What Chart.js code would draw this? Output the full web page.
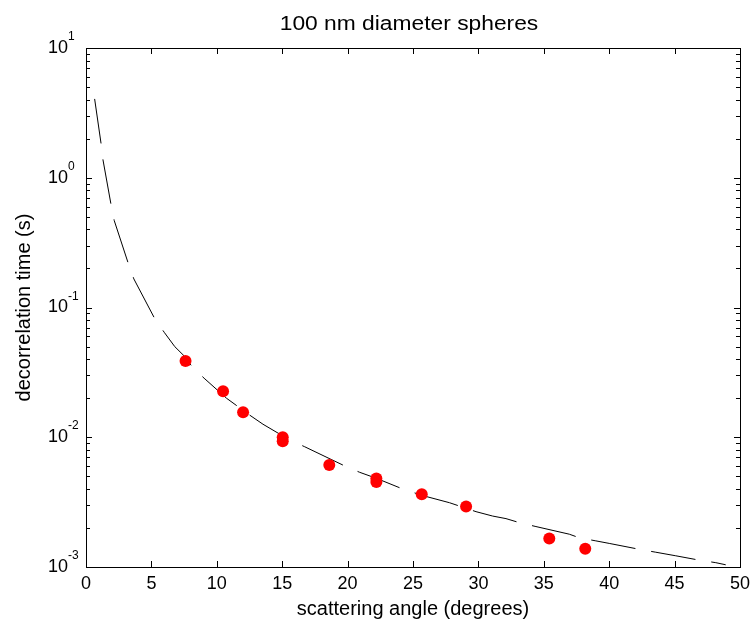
<!DOCTYPE html>
<html>
<head>
<meta charset="utf-8">
<script src="https://cdn.jsdelivr.net/npm/chart.js@4/dist/chart.umd.min.js"></script>
<style>
  body { margin: 0; background: #fff; }
  canvas { display: block; }
</style>
</head>
<body>
<canvas id="decorrChart" width="756" height="626"></canvas>
<script>
// Data
const curveAngle = [0.66, 1.15, 1.30, 1.91, 2.16, 3.23, 3.66, 5.24, 5.98, 6.79, 7.56, 8.11, 9.03, 10.74, 12.52, 13.53, 15.57, 16.72, 19.90, 20.92, 22.19, 24.22, 25.75, 27.79, 29.82, 31.09, 32.11, 33.18, 34.40, 36.95, 37.71, 38.98, 40.0, 42.29, 43.56, 45.09, 46.87, 48.15, 48.91];
const curveTime = [4.05, 1.84, 1.37, 0.624, 0.467, 0.219, 0.166, 0.0826, 0.0644, 0.0499, 0.0418, 0.0350, 0.0285, 0.0200, 0.0148, 0.0126, 0.00953, 0.00845, 0.00593, 0.00537, 0.00483, 0.00399, 0.00355, 0.00313, 0.00267, 0.00247, 0.00236, 0.00219, 0.00205, 0.00179, 0.00168, 0.00159, 0.00152, 0.00137, 0.00130, 0.00122, 0.00113, 0.00108, 0.00104];

const measAngle = [7.61, 10.48, 12.01, 15.04, 15.04, 18.6, 22.2, 22.2, 25.67, 29.06, 35.42, 38.17];
const measTime = [0.0387, 0.0226, 0.01557, 0.0100, 0.0093, 0.00611, 0.00481, 0.00452, 0.00363, 0.00292, 0.00166, 0.00138];

const xTicks = [0, 5, 10, 15, 20, 25, 30, 35, 40, 45, 50];
const yExponents = [1, 0, -1, -2, -3];

const fontFamily = "'Liberation Sans', Arial, sans-serif";

// Box, inward ticks and power-of-ten labels, MATLAB style
const axesBox = {
  id: "axesBox",
  afterDraw(chart) {
    const { ctx, chartArea: a, scales: { x, y } } = chart;
    ctx.save();
    ctx.strokeStyle = "#000";
    ctx.lineWidth = 1;
    ctx.beginPath();
    // x ticks, bottom and top
    xTicks.forEach(v => {
      const px = Math.round(x.getPixelForValue(v)) + 0.5;
      ctx.moveTo(px, a.bottom); ctx.lineTo(px, a.bottom - 6);
      ctx.moveTo(px, a.top); ctx.lineTo(px, a.top + 6);
    });
    // y ticks, major and minor, left and right
    yExponents.forEach(e => {
      for (let k = 1; k <= 9; k++) {
        const v = k * Math.pow(10, e);
        if (v > y.max * 1.0001 || v < y.min * 0.9999) continue;
        const py = Math.round(y.getPixelForValue(v)) + 0.5;
        const len = k === 1 ? 6 : 4;
        ctx.moveTo(a.left, py); ctx.lineTo(a.left + len, py);
        ctx.moveTo(a.right, py); ctx.lineTo(a.right - len, py);
      }
    });
    ctx.stroke();
    ctx.strokeRect(Math.round(a.left) + 0.5, Math.round(a.top) + 0.5,
      Math.round(a.right - a.left), Math.round(a.bottom - a.top));

    // y labels 10^n
    ctx.fillStyle = "#000";
    yExponents.forEach(e => {
      const py = y.getPixelForValue(Math.pow(10, e));
      ctx.font = "18px " + fontFamily;
      ctx.textAlign = "right";
      ctx.textBaseline = "middle";
      ctx.fillText("10", a.left - 18, py);
      ctx.font = "12px " + fontFamily;
      ctx.textAlign = "left";
      ctx.textBaseline = "alphabetic";
      ctx.fillText(String(e), a.left - 18, py - 8);
    });

    // title over the axes (the original lettering runs a bit wide)
    ctx.font = "20px " + fontFamily;
    ctx.textAlign = "center";
    ctx.textBaseline = "middle";
    ctx.translate((a.left + a.right) / 2 - 4, 24);
    ctx.scale(1.14, 1);
    ctx.fillText("100 nm diameter spheres", 0, 0);
    ctx.restore();
  }
};

const options = {
  type: "scatter",
  data: {
    datasets: [
      {
        label: "fit",
        data: curveAngle.map((v, i) => ({ x: v, y: curveTime[i] })),
        showLine: true,
        borderColor: "#000",
        borderWidth: 1,
        borderDash: [45, 16],
        pointRadius: 0,
        fill: false,
        order: 2,
      },
      {
        label: "measured",
        data: measAngle.map((v, i) => ({ x: v, y: measTime[i] })),
        showLine: false,
        pointRadius: 6,
        pointBackgroundColor: "#ff0000",
        pointBorderWidth: 0,
        borderColor: "#ff0000",
        order: 1,
      },
    ],
  },
  options: {
    responsive: false,
    animation: false,
    devicePixelRatio: 1,
    layout: { padding: { left: 0, right: 15, top: 48, bottom: 0 } },
    plugins: {
      legend: { display: false },
      tooltip: { enabled: false },
    },
    scales: {
      x: {
        type: "linear",
        min: 0,
        max: 50,
        afterBuildTicks: scale => { scale.ticks = xTicks.map(v => ({ value: v })); },
        afterFit: scale => { scale.height = 59; },
        grid: { display: false, drawTicks: false },
        border: { display: false },
        ticks: {
          color: "#000",
          padding: 6,
          maxRotation: 0,
          font: { family: fontFamily, size: 18 },
        },
        title: {
          display: true,
          text: "scattering angle (degrees)",
          color: "#000",
          font: { family: fontFamily, size: 20 },
          padding: { top: 0, bottom: 5 },
        },
      },
      y: {
        type: "logarithmic",
        min: 1e-3,
        max: 1e1,
        afterFit: scale => { scale.width = 86; },
        grid: { display: false },
        border: { display: false },
        ticks: { display: false },
        title: {
          display: true,
          text: "decorrelation time (s)",
          color: "#000",
          font: { family: fontFamily, size: 20 },
          padding: { top: 12, bottom: 0 },
        },
      },
    },
  },
  plugins: [axesBox],
};

new Chart(document.getElementById("decorrChart"), options);
</script>
</body>
</html>
